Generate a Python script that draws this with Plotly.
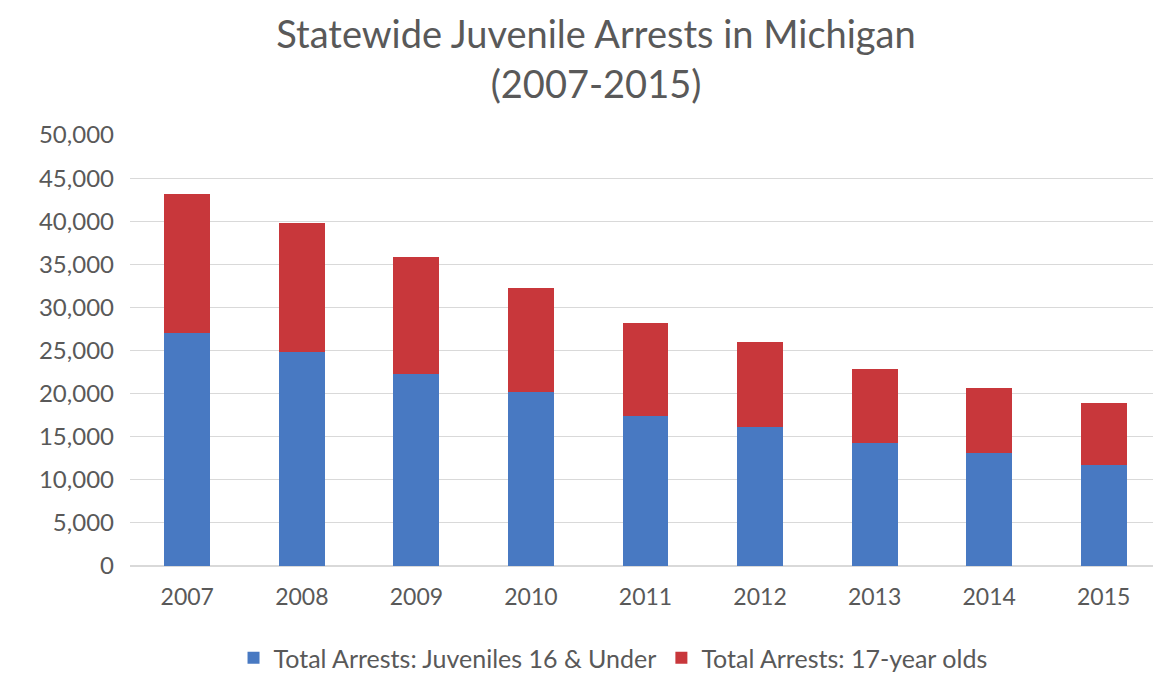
import plotly.graph_objects as go

years = ["2007", "2008", "2009", "2010", "2011", "2012", "2013", "2014", "2015"]
under16 = [27000, 24800, 22300, 20200, 17400, 16100, 14300, 13100, 11700]
age17 = [16200, 15000, 13600, 12100, 10800, 9900, 8500, 7600, 7200]
yticks = [0, 5000, 10000, 15000, 20000, 25000, 30000, 35000, 40000, 45000, 50000]
ytext = ["0", "5,000", "10,000", "15,000", "20,000", "25,000", "30,000", "35,000", "40,000", "45,000", "50,000"]

font_family = "Lato"
gray = "#595959"

fig = go.Figure()
fig.add_trace(go.Bar(x=years, y=under16, name="Total Arrests: Juveniles 16 & Under",
                     marker=dict(color="#4879C2", line=dict(width=0))))
fig.add_trace(go.Bar(x=years, y=age17, name="Total Arrests: 17-year olds",
                     marker=dict(color="#C8373B", line=dict(width=0))))

fig.update_layout(
    width=1153, height=682,
    barmode="stack", bargap=0.6,
    paper_bgcolor="white", plot_bgcolor="white",
    margin=dict(l=122, r=0, t=127, b=124),
    title=dict(text="Statewide Juvenile Arrests in Michigan<br>(2007-2015)",
               x=0.51, xanchor="center", y=0.941, yanchor="top",
               font=dict(family=font_family, size=38, color=gray)),
    font=dict(family=font_family, color=gray),
    xaxis=dict(tickfont=dict(size=23, color=gray), showgrid=False, showline=False,
               ticks="", ticklabelstandoff=15),
    yaxis=dict(range=[0, 50000], tickvals=yticks, ticktext=ytext,
               tickfont=dict(size=24, color=gray), showgrid=True,
               gridcolor="#D9D9D9", gridwidth=1, zeroline=True, zerolinecolor="#D9D9D9",
               showline=False, ticks="", ticklabelstandoff=15),
    legend=dict(orientation="h", x=0.4685, xanchor="center", y=-0.2135, yanchor="middle",
                font=dict(size=25, color=gray), traceorder="normal",
                itemwidth=30),
    showlegend=True,
)

fig.write_html("out.html")
